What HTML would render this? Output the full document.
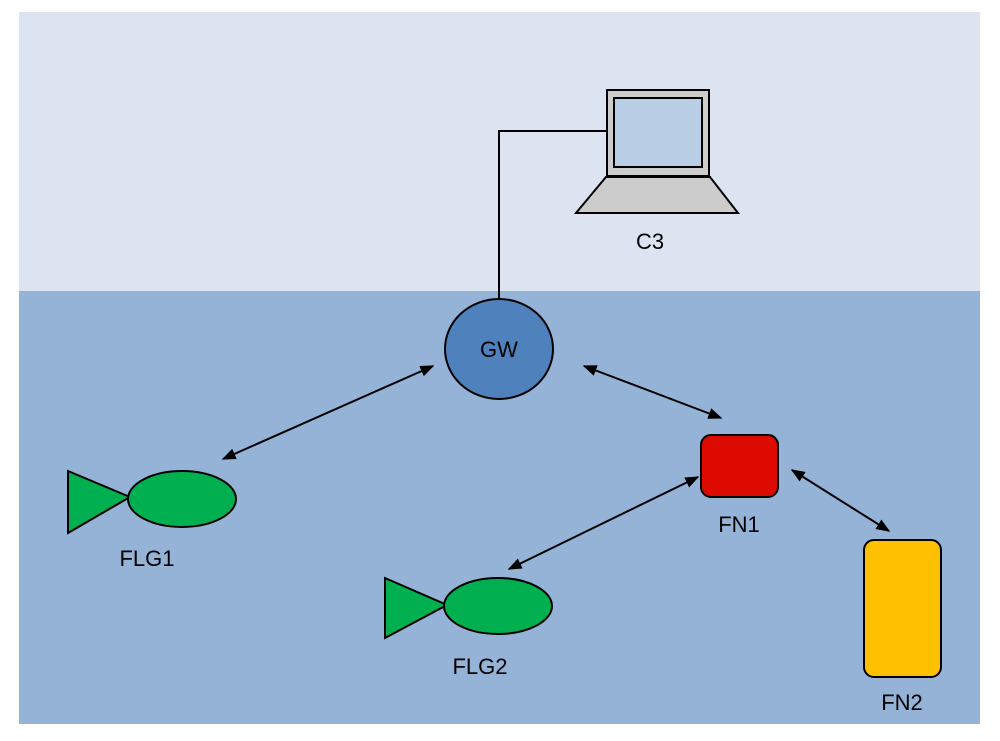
<!DOCTYPE html>
<html><head><style>body{margin:0;background:#fff}svg{display:block}text{font-family:"Liberation Sans",sans-serif;font-size:22px;fill:#000}</style></head><body>
<svg width="1000" height="741" viewBox="0 0 1000 741">
<defs><marker id="a" viewBox="0 0 10 10" refX="9" refY="5" markerWidth="7" markerHeight="7" orient="auto-start-reverse"><path d="M0,1 L10,5 L0,9 z" fill="#000"/></marker></defs>
<rect x="19" y="12" width="961" height="280" fill="#dbe4f0"/>
<rect x="19" y="291" width="961" height="433" fill="#95b3d7"/>
<polyline points="499,298 499,131 607,131" fill="none" stroke="#000" stroke-width="2"/>
<rect x="607" y="90" width="102" height="86" fill="#cccccc" stroke="#000" stroke-width="2"/>
<rect x="614" y="98" width="88" height="69" fill="#b9cde5" stroke="#000" stroke-width="2"/>
<polygon points="606,177 710,177 738,213 576,213" fill="#cccccc" stroke="#000" stroke-width="2"/>
<text x="650" y="249" text-anchor="middle">C3</text>
<ellipse cx="499" cy="349" rx="54" ry="50" fill="#4f81bd" stroke="#000" stroke-width="2"/>
<text x="499" y="357" text-anchor="middle">GW</text>
<polygon points="68,471 130,497 68,533" fill="#00b050" stroke="#000" stroke-width="2"/>
<ellipse cx="182" cy="499" rx="54" ry="28" fill="#00b050" stroke="#000" stroke-width="2"/>
<text x="147" y="566" text-anchor="middle">FLG1</text>
<polygon points="385,578 447,605 385,638" fill="#00b050" stroke="#000" stroke-width="2"/>
<ellipse cx="498" cy="606" rx="54" ry="28" fill="#00b050" stroke="#000" stroke-width="2"/>
<text x="480" y="674" text-anchor="middle">FLG2</text>
<rect x="701" y="435" width="77" height="62" rx="10" fill="#dd0a00" stroke="#000" stroke-width="2"/>
<text x="739" y="532" text-anchor="middle">FN1</text>
<rect x="864" y="540" width="77" height="137" rx="10" fill="#ffc000" stroke="#000" stroke-width="2"/>
<text x="902" y="710" text-anchor="middle">FN2</text>
<g stroke="#000" stroke-width="2" marker-start="url(#a)" marker-end="url(#a)">
<line x1="223" y1="459" x2="433" y2="366"/>
<line x1="584" y1="366" x2="721" y2="418"/>
<line x1="509" y1="569" x2="698" y2="477"/>
<line x1="792" y1="470" x2="889" y2="531"/>
</g>
</svg>
</body></html>
